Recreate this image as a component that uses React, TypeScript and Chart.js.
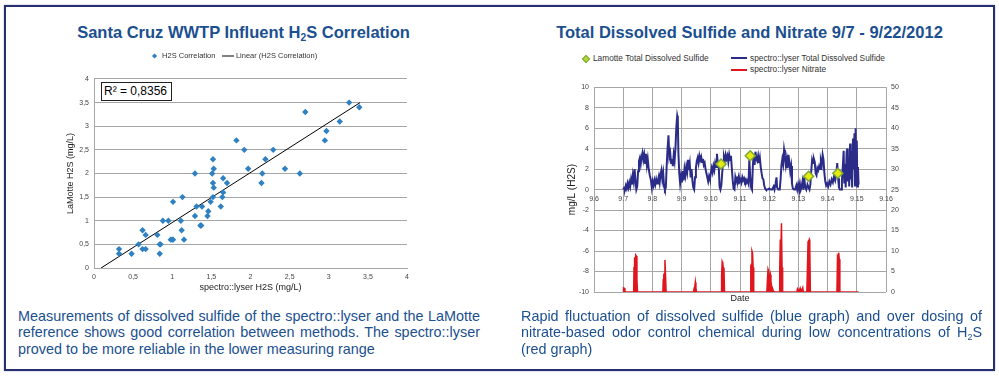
import React, { useEffect, useRef } from "react";
import { Chart, registerables } from "chart.js";

Chart.register(...registerables);

// ---------- Left chart: correlation ----------
const corrSpectro = [
  0.32, 0.32, 0.48, 0.57, 0.62, 0.62, 0.66, 0.66, 0.81, 0.84,
  0.85, 0.84, 0.88, 0.95, 0.98, 1.0, 1.01, 1.01, 1.11, 1.12,
  1.13, 1.15, 1.29, 1.29, 1.31, 1.36, 1.37, 1.38, 1.45, 1.46,
  1.49, 1.51, 1.52, 1.52, 1.53, 1.52, 1.53, 1.62, 1.64, 1.65,
  1.65, 1.7, 1.82, 1.92, 1.97, 2.14, 2.15, 2.19, 2.29, 2.44,
  2.63, 2.7, 2.95, 2.97, 3.14, 3.26, 3.39,
];
const corrLamotte = [
  0.4, 0.3, 0.3, 0.5, 0.8, 0.4, 0.4, 0.7, 0.7, 0.5,
  0.5, 0.3, 1.0, 1.0, 0.6, 0.6, 0.6, 1.4, 1.0, 0.8,
  1.5, 0.6, 2.0, 1.1, 1.3, 0.9, 0.9, 1.3, 1.1, 1.2,
  1.4, 2.0, 1.8, 2.3, 2.1, 1.5, 1.7, 1.3, 1.5, 1.9,
  1.6, 1.8, 2.7, 2.5, 2.1, 1.8, 2.0, 2.3, 2.5, 2.1,
  2.0, 3.3, 2.7, 2.9, 3.1, 3.5, 3.4,
];
const trendX = [0.09, 3.4];
const trendY = [0, 3.5];
const corrLabels = ["H2S Correlation", "Linear (H2S Correlation)"];
const rSquaredText = "R² = 0,8356";

// ---------- Right chart: time series ----------
const tdsDays = [
  7.0, 7.03, 7.06, 7.09, 7.12, 7.15, 7.18, 7.21, 7.24, 7.27, 7.3, 7.33, 7.36, 7.39, 7.42, 7.45,
  7.48, 7.51, 7.54, 7.57, 7.6, 7.63, 7.66, 7.69, 7.72, 7.75, 7.78, 7.81, 7.84, 7.87, 7.91, 7.95,
  7.98, 8.01, 8.04, 8.07, 8.1, 8.13, 8.16, 8.19, 8.22, 8.25, 8.28, 8.31, 8.34, 8.37, 8.4, 8.43,
  8.46, 8.49, 8.52, 8.55, 8.58, 8.61, 8.64, 8.67, 8.7, 8.73, 8.76, 8.79, 8.82, 8.85, 8.87, 8.89, 8.92,
  8.95, 8.98, 9.01, 9.04, 9.07, 9.1, 9.13, 9.16, 9.19, 9.22, 9.25, 9.28, 9.31, 9.34, 9.37, 9.4, 9.43,
  9.46, 9.49, 9.52, 9.55, 9.58, 9.61, 9.64, 9.67, 9.7, 9.73, 9.76, 9.79, 9.82, 9.85, 9.88, 9.91, 9.94,
  9.97, 10.0, 10.03, 10.06, 10.09, 10.12, 10.15, 10.18, 10.21, 10.24, 10.27, 10.3, 10.33,
  10.36, 10.39, 10.42, 10.45, 10.48, 10.51, 10.54, 10.57, 10.6, 10.63, 10.66, 10.69, 10.72, 10.75, 10.78, 10.81,
  10.84, 10.87, 10.9, 10.93, 10.96, 10.99, 11.02, 11.05, 11.08, 11.11, 11.14, 11.17, 11.2, 11.23, 11.26, 11.29, 11.32, 11.35, 11.38,
  11.41, 11.44, 11.47, 11.5, 11.53, 11.56, 11.59, 11.62, 11.65, 11.68, 11.71, 11.74, 11.77, 11.8, 11.83, 11.86, 11.89,
  11.95, 12.0, 12.05, 12.1, 12.15, 12.18, 12.22, 12.25, 12.27, 12.31, 12.36,
  12.39, 12.42, 12.45, 12.48, 12.51, 12.54, 12.57, 12.6, 12.63, 12.66, 12.69, 12.72, 12.75, 12.78, 12.81, 12.85, 12.89,
  12.93, 12.96, 12.99, 13.02, 13.05, 13.08, 13.11, 13.14, 13.17, 13.2, 13.23, 13.27, 13.31, 13.35, 13.38,
  13.41, 13.44, 13.47, 13.5, 13.53, 13.56, 13.59, 13.62, 13.65, 13.68, 13.71, 13.74, 13.77, 13.8, 13.83, 13.86, 13.89, 13.92, 13.95,
  13.98, 14.02, 14.06, 14.1, 14.14, 14.18, 14.22, 14.26, 14.3, 14.33, 14.36, 14.39, 14.42, 14.46,
  14.49, 14.52, 14.55, 14.57, 14.6, 14.62, 14.65, 14.67, 14.69, 14.72, 14.74, 14.77, 14.79, 14.82, 14.84, 14.87, 14.89, 14.92, 14.94, 14.96, 14.98, 15.0, 15.02, 15.04, 15.06,
];
const tdsValues = [
  0.0, 0.15, 0.05, 0.4, 0.1, 0.6, 0.2, 0.7, 0.3, 1.0, 0.5, 1.4, 0.8, 2.0, 0.9, 0.0,
  0.3, 1.8, 2.8, 3.1, 2.5, 3.2, 3.6, 2.9, 3.4, 2.6, 3.5, 2.4, 3.0, 2.1, 1.4, 0.9,
  0.2, 0.8, 0.4, 0.9, 0.5, 1.0, 0.6, 0.9, 1.3, 0.7, 1.5, 1.9, 1.0, 1.6, 0.3, 0.0,
  0.2, 2.4, 4.0, 5.3, 3.2, 3.6, 2.6, 3.0, 2.3, 3.4, 2.8, 4.1, 6.1, 7.2, 6.9, 3.6, 1.6,
  0.6, 1.3, 0.7, 1.8, 0.9, 2.0, 1.4, 2.2, 1.7, 2.9, 1.9, 2.5, 1.2, 2.0, 0.9, 0.2, 0.0,
  1.2, 2.1, 2.8, 3.1, 2.6, 3.3, 2.9, 3.2, 2.7, 3.0, 2.4, 2.6, 2.0, 1.6, 1.2, 0.8, 1.3,
  1.0, 1.6, 2.1, 1.7, 2.3, 1.9, 2.6, 2.2, 3.5, 2.6, 2.4, 0.3, 0.0,
  0.4, 1.6, 2.8, 3.2, 2.8, 3.4, 3.0, 3.3, 2.7, 3.4, 2.9, 3.3, 2.1, 0.9, 0.1, 0.0,
  1.2, 0.8, 1.1, 0.9, 1.3, 0.8, 1.0, 0.7, 1.2, 0.9, 1.1, 0.8, 1.0, 0.7, 0.9, 0.6, 2.9, 1.2, 0.2,
  0.0, 2.3, 3.5, 2.4, 3.7, 3.0, 2.8, 3.3, 2.6, 3.1, 2.2, 1.6, 1.1, 1.0, 0.4, 0.1, 0.0,
  0.0, 0.1, 0.0, 0.0, 0.3, 0.0, 0.6, 1.2, 0.2, 0.0, 0.0,
  1.0, 2.4, 3.0, 2.5, 3.9, 3.3, 2.4, 3.0, 2.1, 3.4, 2.7, 1.8, 2.3, 0.6, 0.1, 0.0, 0.0,
  0.4, 0.0, 0.5, 0.1, 0.6, 0.0, 0.3, 0.8, 0.0, 1.2, 0.3, 0.0, 0.5, 0.2, 0.0,
  0.5, 1.8, 2.9, 2.6, 3.0, 2.7, 1.6, 1.4, 2.1, 1.9, 2.3, 2.0, 2.8, 2.4, 3.4, 2.9, 1.6, 0.8, 0.4,
  0.6, 0.3, 0.8, 0.5, 1.0, 0.7, 1.3, 0.9, 1.5, 2.6, 1.1, 0.2, 0.0, 0.0,
  0.8, 2.2, 3.8, 0.6, 2.5, 0.2, 3.6, 4.0, 0.8, 3.2, 0.3, 4.5, 1.0, 3.8, 0.2, 5.0, 2.0, 5.5, 0.4, 6.0, 1.0, 4.8, 0.3, 2.2, 0.5,
];
const nitrateDays = [
  7.0, 7.01, 7.04, 7.06,
  7.36, 7.37, 7.39, 7.41, 7.43, 7.45, 7.47, 7.49,
  8.36, 8.37, 8.39, 8.41, 8.43, 8.45, 8.47,
  9.41, 9.43, 9.45, 9.47, 9.49, 9.51,
  10.36, 10.37, 10.39, 10.41, 10.43, 10.45, 10.47,
  11.36, 11.37, 11.39, 11.41, 11.43, 11.45, 11.47,
  11.92, 11.94, 11.96, 11.98, 12.0, 12.02, 12.04, 12.06, 12.08, 12.11, 12.14, 12.16,
  12.34, 12.36, 12.38, 12.4, 12.42, 12.44, 12.46,
  12.95, 12.97, 13.0, 13.03, 13.06, 13.08, 13.12, 13.15, 13.17,
  13.29, 13.31, 13.33, 13.35, 13.37, 13.39, 13.41,
  14.32, 14.34, 14.36, 14.38, 14.4, 14.42,
  15.06,
];
const nitrateValues = [
  0, 1.0, 0.9, 0,
  0, 6, 8.5, 7, 9, 8.8, 3, 0,
  0, 3, 4.2, 4.5, 7.8, 4, 0,
  0, 1.0, 1.2, 2.4, 1.0, 0,
  0, 4, 7.4, 7.0, 5.5, 6.0, 0,
  0, 6.4, 6.8, 10, 9.5, 6, 0,
  0, 3, 5.5, 5.0, 4.2, 3.5, 4.2, 2.5, 1.5, 1.0, 0.3, 0,
  0, 5, 12.8, 10.5, 16.8, 6, 0,
  0, 0.8, 0.5, 0.3, 0.9, 0.2, 0.3, 1.0, 0,
  0, 6, 12.2, 12.5, 12.8, 11, 0,
  0, 8.8, 8.5, 9.6, 8.0, 0,
  0,
];
const lamotteDays = [10.35, 11.35, 13.35, 14.35];
const lamotteValues = [2.5, 3.3, 1.3, 1.6];
const seriesLabels = [
  "Lamotte Total Dissolved Sulfide",
  "spectro::lyser Total Dissolved Sulfide",
  "spectro::lyser Nitrate",
];

const FONT = '"Liberation Sans", Arial, Helvetica, sans-serif';
const TITLE_BLUE = "#1b4f8f";
const SCATTER_BLUE = "#2f81c1";
const NAVY = "#2b2c88";
const RED = "#e0161e";
const GRID = "#a6a6a6";
const TICK = "#444";

Chart.defaults.font.family = FONT;

const comma = (v: number) => String(Math.round(v * 10) / 10).replace(".", ",");

export default function App() {
  const leftRef = useRef<HTMLCanvasElement>(null);
  const rightRef = useRef<HTMLCanvasElement>(null);

  useEffect(() => {
    const lineIcon = document.createElement("canvas");
    lineIcon.width = 12;
    lineIcon.height = 3;
    const g = lineIcon.getContext("2d")!;
    g.fillStyle = "#000";
    g.fillRect(0, 1, 12, 1);

    const left = new Chart(leftRef.current!, {
      type: "scatter",
      data: {
        datasets: [
          {
            label: corrLabels[0],
            data: corrSpectro.map((x, i) => ({ x, y: corrLamotte[i] })),
            pointStyle: "rectRot",
            pointRadius: 3.2,
            backgroundColor: SCATTER_BLUE,
            borderColor: SCATTER_BLUE,
            borderWidth: 0,
          },
          {
            label: corrLabels[1],
            type: "line",
            data: trendX.map((x, i) => ({ x, y: trendY[i] })),
            borderColor: "#000",
            borderWidth: 1,
            pointRadius: 0,
            showLine: true,
            fill: false,
          } as any,
        ],
      },
      options: {
        animation: false,
        responsive: false,
        maintainAspectRatio: false,
        layout: { padding: { left: 12, right: 6, top: 1, bottom: 0 } },
        plugins: {
          tooltip: { enabled: false },
          // empty spacer box between legend and plot area
          title: {
            display: true,
            text: "",
            position: "top",
            weight: 500,
            font: { size: 1 },
            padding: { top: 0, bottom: 8 },
          },
          legend: {
            display: true,
            position: "top",
            labels: {
              usePointStyle: true,
              boxWidth: 8,
              boxHeight: 3.7,
              padding: 9.25,
              color: "#333",
              font: { size: 7.5, family: FONT },
              generateLabels: (chart: any) => [
                {
                  text: chart.data.datasets[0].label,
                  fillStyle: SCATTER_BLUE,
                  strokeStyle: SCATTER_BLUE,
                  lineWidth: 0,
                  pointStyle: "rectRot",
                  hidden: false,
                  datasetIndex: 0,
                  fontColor: "#333",
                },
                {
                  text: chart.data.datasets[1].label,
                  fillStyle: "#000",
                  strokeStyle: "#000",
                  lineWidth: 0,
                  pointStyle: lineIcon,
                  hidden: false,
                  datasetIndex: 1,
                  fontColor: "#333",
                },
              ],
            },
          },
        },
        scales: {
          x: {
            type: "linear",
            min: 0,
            max: 4,
            ticks: {
              stepSize: 0.5,
              callback: (v: any) => comma(Number(v)),
              color: TICK,
              font: { size: 7 },
              padding: 5,
            },
            grid: { display: false, drawTicks: false },
            border: { display: true, color: GRID, width: 1 },
            title: {
              display: true,
              text: "spectro::lyser H2S (mg/L)",
              color: "#222",
              font: { size: 9 },
              padding: { top: 0, bottom: 2 },
            },
            afterFit: (s: any) => {
              s.height = 27;
            },
          },
          y: {
            type: "linear",
            min: 0,
            max: 4,
            ticks: {
              stepSize: 0.5,
              callback: (v: any) => comma(Number(v)),
              color: TICK,
              font: { size: 7 },
              padding: 5,
            },
            grid: { color: GRID, drawTicks: false },
            border: { display: true, color: GRID, width: 1 },
            title: {
              display: true,
              text: "LaMotte H2S (mg/L)",
              color: "#222",
              font: { size: 9 },
              padding: { top: 5.6, bottom: 0 },
            },
            afterFit: (s: any) => {
              s.width = 34;
            },
          },
        },
      } as any,
    });

    const right = new Chart(rightRef.current!, {
      type: "line",
      data: {
        datasets: [
          {
            label: seriesLabels[0],
            data: lamotteDays.map((x, i) => ({ x, y: lamotteValues[i] })),
            xAxisID: "x",
            yAxisID: "y",
            showLine: false,
            pointStyle: "rectRot",
            pointRadius: 5,
            backgroundColor: "#e6ea12",
            borderColor: "#7aa832",
            borderWidth: 1.5,
          },
          {
            label: seriesLabels[1],
            data: tdsDays.map((x, i) => ({ x, y: tdsValues[i] })),
            xAxisID: "x",
            yAxisID: "y",
            borderColor: NAVY,
            borderWidth: 2,
            pointRadius: 0,
            tension: 0,
            fill: false,
          },
          {
            label: seriesLabels[2],
            data: nitrateDays.map((x, i) => ({ x, y: nitrateValues[i] })),
            xAxisID: "x",
            yAxisID: "y2",
            borderColor: RED,
            backgroundColor: RED,
            borderWidth: 1.5,
            pointRadius: 0,
            tension: 0,
            fill: "origin",
          },
        ],
      },
      options: {
        animation: false,
        responsive: false,
        maintainAspectRatio: false,
        layout: { padding: { left: 20, right: 0, top: 6, bottom: 0 } },
        plugins: { legend: { display: false }, tooltip: { enabled: false } },
        scales: {
          x: {
            type: "linear",
            axis: "x",
            position: { y: 0 },
            min: 6,
            max: 16,
            ticks: {
              stepSize: 1,
              callback: (v: any) => "9." + v,
              color: TICK,
              font: { size: 7 },
              padding: 5,
              maxRotation: 0,
              autoSkip: false,
            },
            grid: { color: GRID, drawTicks: false },
            border: { display: false },
          },
          xd: {
            type: "linear",
            axis: "x",
            position: "bottom",
            ticks: { display: false },
            grid: { display: false, drawTicks: false },
            border: { display: false },
            title: {
              display: true,
              text: "Date",
              color: "#222",
              font: { size: 9 },
              padding: { top: 0, bottom: 6 },
            },
            afterFit: (s: any) => {
              s.height = 18;
            },
          },
          y: {
            type: "linear",
            axis: "y",
            position: "left",
            min: -10,
            max: 10,
            ticks: { stepSize: 2, color: TICK, font: { size: 7 }, padding: 5 },
            grid: { color: GRID, drawTicks: false },
            border: { display: false },
            title: {
              display: true,
              text: "mg/L (H2S)",
              color: "#222",
              font: { size: 10 },
              padding: { top: 6, bottom: 0 },
            },
            afterFit: (s: any) => {
              s.width = 34;
            },
          },
          y2: {
            type: "linear",
            axis: "y",
            position: "right",
            min: 0,
            max: 50,
            ticks: { stepSize: 5, color: TICK, font: { size: 7 }, padding: 5 },
            grid: { display: false, drawTicks: false },
            border: { display: false },
            afterFit: (s: any) => {
              s.width = 34;
            },
          },
        },
      } as any,
    });

    return () => {
      left.destroy();
      right.destroy();
    };
  }, []);

  const sub = (
    <sub style={{ fontSize: "0.62em", verticalAlign: "-0.3em", lineHeight: 0 }}>2</sub>
  );
  const titleStyle: React.CSSProperties = {
    position: "absolute",
    top: 21.6,
    height: 20,
    lineHeight: "20px",
    fontSize: 16.5,
    fontWeight: "bold",
    color: TITLE_BLUE,
    textAlign: "center",
    whiteSpace: "nowrap",
  };
  const capStyle: React.CSSProperties = {
    position: "absolute",
    top: 307.5,
    fontSize: 14.4,
    lineHeight: "16.5px",
    color: TITLE_BLUE,
  };
  const justLine: React.CSSProperties = {
    textAlign: "justify",
    textAlignLast: "justify",
    whiteSpace: "nowrap",
  };
  const legText: React.CSSProperties = {
    position: "absolute",
    fontSize: 8.3,
    lineHeight: "10px",
    color: "#333",
    whiteSpace: "nowrap",
  };

  return (
    <div
      style={{
        position: "absolute",
        left: 0,
        top: 0,
        width: 999,
        height: 377,
        background: "#fff",
        overflow: "hidden",
        fontFamily: FONT,
      }}
    >
      <div
        style={{
          position: "absolute",
          left: 4,
          top: 5,
          width: 991,
          height: 366,
          boxSizing: "border-box",
          border: "2px solid #27306f",
          boxShadow: "0 0 1.5px #9aa0cc",
        }}
      />
      <div style={{ ...titleStyle, left: 0, width: 487 }}>
        Santa Cruz WWTP Influent H{sub}S Correlation
      </div>
      <div style={{ ...titleStyle, left: 500, width: 499 }}>
        Total Dissolved Sulfide and Nitrate 9/7 - 9/22/2012
      </div>

      <canvas
        ref={leftRef}
        width={366}
        height={253}
        style={{ position: "absolute", left: 48, top: 42 }}
      />
      <div
        style={{
          position: "absolute",
          left: 101,
          top: 82,
          width: 71,
          height: 19,
          boxSizing: "border-box",
          border: "1px solid #222",
          background: "#fff",
          fontSize: 12,
          lineHeight: "17px",
          paddingLeft: 2,
          color: "#000",
          whiteSpace: "nowrap",
        }}
      >
        {rSquaredText}
      </div>

      <canvas
        ref={rightRef}
        width={380}
        height={232}
        style={{ position: "absolute", left: 540, top: 78 }}
      />
      {/* right legend */}
      <div
        style={{
          position: "absolute",
          left: 583,
          top: 55.7,
          width: 4,
          height: 4,
          background: "#b5d63a",
          border: "0.5px solid #7aa832",
          transform: "rotate(45deg)",
        }}
      />
      <div style={{ ...legText, left: 593, top: 52.7 }}>{seriesLabels[0]}</div>
      <div style={{ position: "absolute", left: 731, top: 57, width: 16, height: 2, background: NAVY }} />
      <div style={{ ...legText, left: 750, top: 52.7 }}>{seriesLabels[1]}</div>
      <div style={{ position: "absolute", left: 731, top: 68.5, width: 16, height: 2, background: RED }} />
      <div style={{ ...legText, left: 750, top: 64.3 }}>{seriesLabels[2]}</div>

      <div style={{ ...capStyle, left: 18, width: 462 }}>
        <div style={justLine}>Measurements of dissolved sulfide of the spectro::lyser and the LaMotte</div>
        <div style={justLine}>reference shows good correlation between methods. The spectro::lyser</div>
        <div>proved to be more reliable in the lower measuring range</div>
      </div>
      <div style={{ ...capStyle, left: 521, width: 461 }}>
        <div style={justLine}>Rapid fluctuation of dissolved sulfide (blue graph) and over dosing of</div>
        <div style={justLine}>
          nitrate-based odor control chemical during low concentrations of H{sub}S
        </div>
        <div>(red graph)</div>
      </div>
    </div>
  );
}
